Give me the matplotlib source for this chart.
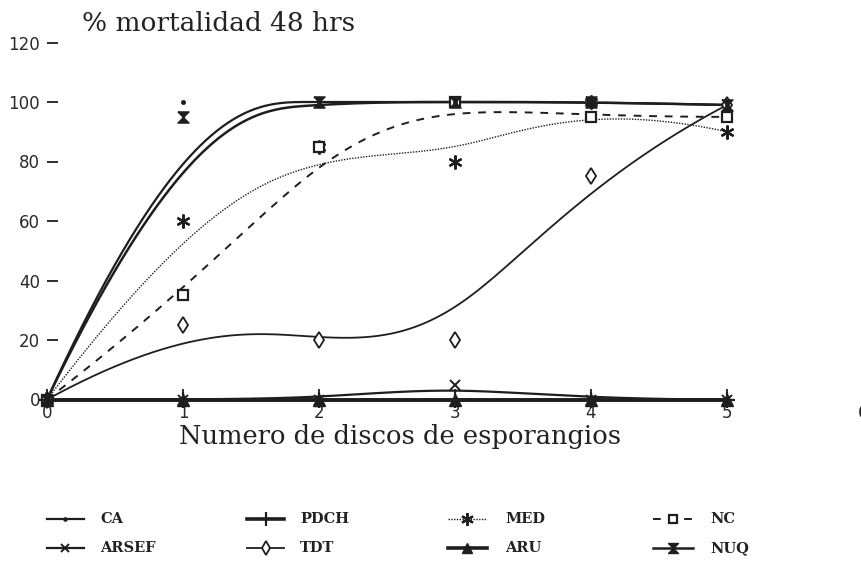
import numpy as np
import matplotlib
matplotlib.use("Agg")
import matplotlib.pyplot as plt
from matplotlib.lines import Line2D

# ---- data ----
discos = [0, 1, 2, 3, 4, 5]
x_ticks = [0, 1, 2, 3, 4, 5, 6]
y_ticks = [0, 20, 40, 60, 80, 100, 120]

CA = [0, 100, 100, 100, 100, 99]
PDCH = [0, 0, 0, 0, 0, 0]
MED = [0, 60, 85, 80, 100, 90]
NC = [0, 35, 85, 100, 95, 95]
ARSEF = [0, 0, 0, 5, 0, 0]
TDT = [0, 25, 20, 20, 75, 99]
ARU = [0, 0, 0, 0, 0, 0]
NUQ = [0, 95, 100, 100, 100, 99]

series_names = ["CA", "PDCH", "MED", "NC", "ARSEF", "TDT", "ARU", "NUQ"]
series_vals = [CA, PDCH, MED, NC, ARSEF, TDT, ARU, NUQ]

INK = "#1e1e1e"
hourglass = [(-1, 1), (1, 1), (-1, -1), (1, -1), (-1, 1)]
styles = {
    "CA":    dict(ls="-", lw=1.6, marker="o", ms=3, mfc=INK, mew=0.5),
    "PDCH":  dict(ls="-", lw=2.6, marker="+", ms=11, mfc=INK, mew=1.6),
    "MED":   dict(ls=(0, (1, 1)), lw=1.0, marker=(6, 2, 0), ms=10, mfc=INK, mew=1.6),
    "NC":    dict(ls=(0, (4, 4)), lw=1.4, marker="s", ms=7, mfc="white", mew=1.6),
    "ARSEF": dict(ls="-", lw=1.6, marker="x", ms=7, mfc=INK, mew=1.4),
    "TDT":   dict(ls="-", lw=1.3, marker="d", ms=8, mfc="white", mew=1.3),
    "ARU":   dict(ls="-", lw=2.6, marker="^", ms=8, mfc=INK, mew=1.0),
    "NUQ":   dict(ls="-", lw=1.8, marker=hourglass, ms=8, mfc=INK, mew=1.0),
}


def bspline(xc, yc, k=3, n=400):
    """Clamped cubic B-spline using the data points as control points."""
    m = len(xc)
    knots = np.concatenate([[0.0] * k, np.linspace(0, 1, m - k + 1), [1.0] * k])
    t = np.linspace(0, 1, n)
    t[-1] -= 1e-12
    nk = len(knots) - 1
    N = np.zeros((n, nk))
    for i in range(nk):
        N[:, i] = (knots[i] <= t) & (t < knots[i + 1])
    for d in range(1, k + 1):
        Nn = np.zeros((n, nk - d))
        for i in range(nk - d):
            a = knots[i + d] - knots[i]
            b = knots[i + d + 1] - knots[i + 1]
            term = np.zeros(n)
            if a > 0:
                term += (t - knots[i]) / a * N[:, i]
            if b > 0:
                term += (knots[i + d + 1] - t) / b * N[:, i + 1]
            Nn[:, i] = term
        N = Nn
    return N @ np.asarray(xc, float), N @ np.asarray(yc, float)


W, H = 862, 566
fig = plt.figure(figsize=(W / 100, H / 100), dpi=100)
fig.patch.set_facecolor("white")

x0_px, y0_px = 47, 399.5
ux = 136.0
uy = 357.0
ax = fig.add_axes([x0_px / W, (H - y0_px) / H, 6 * ux / W, uy / H])
ax.set_xlim(0, 6)
ax.set_ylim(0, 120)
for s in ax.spines.values():
    s.set_visible(False)
ax.patch.set_alpha(0)

# draw zero-level series last so they look heavy on the baseline
order = ["TDT", "MED", "NC", "NUQ", "CA", "ARSEF", "ARU", "PDCH"]
for name in order:
    vals = series_vals[series_names.index(name)]
    st = styles[name]
    cx, cy = bspline(discos, vals)
    ax.plot(cx, cy, color=INK, ls=st["ls"], lw=st["lw"], clip_on=False,
            solid_capstyle="round")
    ax.plot(discos, vals, ls="none", marker=st["marker"], ms=st["ms"],
            mfc=st["mfc"], mec=INK, mew=st["mew"], clip_on=False, zorder=4)

ax.set_xticks(x_ticks)
ax.set_xticklabels([str(v) for v in x_ticks])
ax.set_yticks(y_ticks)
ax.set_yticklabels([str(v) for v in y_ticks])
ax.tick_params(axis="both", direction="in", length=8, width=1.3, color=INK,
               labelcolor="#2a2a2a", labelsize=12)
ax.tick_params(axis="y", pad=5)
ax.tick_params(axis="x", pad=3)
for lab in ax.get_xticklabels() + ax.get_yticklabels():
    lab.set_family("DejaVu Sans")

fig.text(82 / W, 1 - 31 / H, "% mortalidad 48 hrs", family="DejaVu Serif",
         fontsize=19, color="#222222", va="baseline", ha="left")
fig.text(400 / W, 1 - 444 / H, "Numero de discos de esporangios",
         family="DejaVu Serif", fontsize=18.5, color="#222222",
         va="baseline", ha="center")

# ---- legend (manual layout, 4 columns x 2 rows) ----
legend_layout = [
    ("CA", 47, 84, 100, 519), ("PDCH", 247, 284, 300, 519),
    ("MED", 448, 487, 505, 519), ("NC", 653, 693, 710, 519),
    ("ARSEF", 47, 84, 100, 548), ("TDT", 247, 284, 300, 548),
    ("ARU", 448, 487, 505, 548), ("NUQ", 653, 693, 710, 548),
]
for name, hx0, hx1, tx, ty in legend_layout:
    st = styles[name]
    xs = [hx0 / W, (hx0 + hx1) / 2 / W, hx1 / W]
    ys = [1 - ty / H] * 3
    ln = Line2D(xs, ys, transform=fig.transFigure, color=INK, ls=st["ls"],
                lw=st["lw"], marker=st["marker"], ms=st["ms"] * 0.9,
                mfc=st["mfc"], mec=INK, mew=st["mew"], markevery=[1])
    fig.add_artist(ln)
    fig.text(tx / W, 1 - ty / H, name, family="DejaVu Serif",
             fontweight="bold", fontsize=10.5, color="#222222",
             va="center", ha="left")

fig.savefig("out.png", dpi=100, facecolor="white")
